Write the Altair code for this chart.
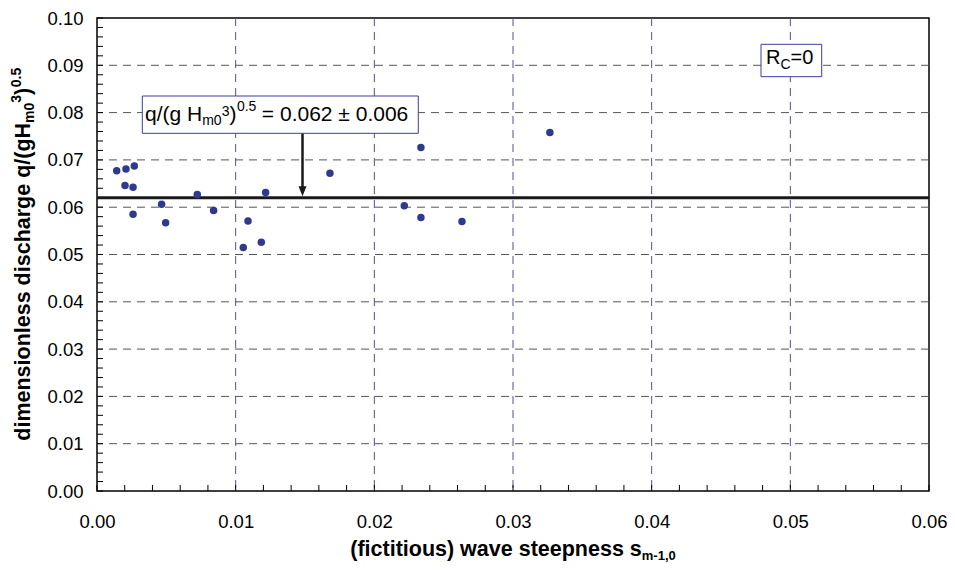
import altair as alt
import pandas as pd

# ---------------- data ----------------
steepness = [0.00142, 0.00209, 0.00269, 0.00202, 0.00260, 0.00260, 0.00466, 0.00495,
             0.00723, 0.00841, 0.01055, 0.01089, 0.01185, 0.01216, 0.01680, 0.02216,
             0.02336, 0.02336, 0.02632, 0.03266]
discharge = [0.0677, 0.0681, 0.0687, 0.0646, 0.0642, 0.0585, 0.0606, 0.0567,
             0.0627, 0.0593, 0.0515, 0.0571, 0.0526, 0.0631, 0.0672, 0.0603,
             0.0726, 0.0578, 0.0570, 0.0758]
mean_discharge = [0.062]
x_major = [0.00, 0.01, 0.02, 0.03, 0.04, 0.05, 0.06]
y_major = [0.00, 0.01, 0.02, 0.03, 0.04, 0.05, 0.06, 0.07, 0.08, 0.09, 0.10]
x_grid = [0.01, 0.02, 0.03, 0.04, 0.05]
y_grid = [0.01, 0.02, 0.03, 0.04, 0.05, 0.06, 0.07, 0.08, 0.09]
x_minor = [round(i * 0.002, 3) for i in range(31)]
y_minor = [round(i * 0.002, 3) for i in range(51)]

# ---------------- layout ----------------
W, H = 832, 473
PAD_L, PAD_T = 89, 10
OX, OY = 8 + PAD_L, 8 + PAD_T  # page position of the plot origin


def px(a):  # page x -> plot x
    return a - OX


def py(a):  # page y -> plot y
    return a - OY


FONT = "Liberation Sans"
BLUE_GRID = "#4b4fa8"
DOT = "#2d3a8f"

xs = alt.Scale(domain=[0, 0.06], nice=False, zero=False)
ys = alt.Scale(domain=[0, 0.10], nice=False, zero=False)

X_AX = alt.Axis(values=x_major, format=".2f", title=None, ticks=False, tickSize=0, domain=False,
                grid=False, labelFontSize=18.5, labelFont=FONT, labelColor="black",
                labelPadding=21, labelFlush=False, labelOverlap=False)
Y_AX = alt.Axis(values=y_major, format=".2f", title=None, ticks=False, tickSize=0, domain=False,
                grid=False, labelFontSize=18.5, labelFont=FONT, labelColor="black",
                labelPadding=14, labelOverlap=False)

REG = {' ': .278, '(': .333, ')': .333, '/': .278, '.': .278, ',': .278, '-': .333,
       '=': .584, '±': .549, 'q': .556, 'g': .556, 'H': .722, 'm': .833, 'R': .722, 'C': .722}
BOLD = {' ': .278, '(': .333, ')': .333, '/': .278, '.': .278, ',': .278, '-': .333,
        'a': .556, 'c': .556, 'd': .611, 'e': .556, 'f': .333, 'g': .611, 'h': .611,
        'i': .278, 'l': .278, 'm': .889, 'n': .611, 'o': .611, 'p': .611, 'q': .611,
        'r': .389, 's': .556, 't': .333, 'u': .611, 'v': .556, 'w': .778, 'H': .722}


def width(s, size, bold):
    table = BOLD if bold else REG
    return sum(table.get(c, .556) for c in s) * size


one = pd.DataFrame({"k": [0]})


def txt(s, x, y, size, bold=False, angle=None):
    kw = dict(text=s, align="left", baseline="alphabetic", fontSize=size, font=FONT,
              fontWeight="bold" if bold else "normal", color="black")
    if angle is not None:
        kw["angle"] = angle
    return alt.Chart(one).mark_text(**kw).encode(x=alt.value(x), y=alt.value(y))


def chain_h(pieces, x0, base, bold):
    out, x = [], x0
    for s, size, shift, gap in pieces:
        x += gap
        out.append(txt(s, x, base + shift, size, bold))
        x += width(s, size, bold)
    return out


def chain_v(pieces, y0, base, bold):
    out, y = [], y0
    for s, size, shift, gap in pieces:
        y -= gap
        out.append(txt(s, base + shift, y, size, bold, angle=270))
        y -= width(s, size, bold)
    return out


# ---------------- layers ----------------
xgrid = alt.Chart(pd.DataFrame({"v": x_grid})).mark_rule(
    stroke=BLUE_GRID, strokeWidth=1, strokeDash=[8, 6]).encode(
    x=alt.X("v:Q", scale=xs, axis=X_AX))
ygrid = alt.Chart(pd.DataFrame({"v": y_grid})).mark_rule(
    stroke="#555555", strokeWidth=1, strokeDash=[8, 6]).encode(
    y=alt.Y("v:Q", scale=ys, axis=Y_AX))

xticks = alt.Chart(pd.DataFrame({"v": x_minor})).mark_rule(stroke="black", strokeWidth=1).encode(
    x=alt.X("v:Q", scale=xs, axis=X_AX), y=alt.value(H), y2=alt.value(H - 6))
yticks = alt.Chart(pd.DataFrame({"v": y_minor})).mark_rule(stroke="black", strokeWidth=1).encode(
    y=alt.Y("v:Q", scale=ys, axis=Y_AX), x=alt.value(0), x2=alt.value(6))

mean_line = alt.Chart(pd.DataFrame({"q": mean_discharge})).mark_rule(
    stroke="#1a1a1a", strokeWidth=3).encode(y=alt.Y("q:Q", scale=ys, axis=Y_AX))

pts_df = pd.DataFrame({"s": steepness, "q": discharge})
points = alt.Chart(pts_df).mark_circle(size=56, color=DOT, opacity=1).encode(
    x=alt.X("s:Q", scale=xs, axis=X_AX),
    y=alt.Y("q:Q", scale=ys, axis=Y_AX))

# annotation boxes, placed relative to the gridlines they sit on
B1 = 6  # vertical offset of the formula box
B2 = 6  # vertical offset of the R_C box

AX = px(302.5)
tip = H * (1 - mean_discharge[0] / 0.10) - 1.5
arrow_shaft = alt.Chart(one).mark_rule(stroke="#1a1a1a", strokeWidth=2.5).encode(
    x=alt.value(AX), y=alt.value(py(127.3 + B1)), y2=alt.value(tip - 8))
arrow_head = alt.Chart(one).mark_point(
    shape="M-0.8,-1L0.8,-1L0,1Z", filled=True, size=100, color="#1a1a1a", opacity=1).encode(
    x=alt.value(AX), y=alt.value(tip - 5))

box1 = alt.Chart(one).mark_rect(fill="white", stroke="#3c3ca0", strokeWidth=1).encode(
    x=alt.value(px(142.3)), x2=alt.value(px(418.3)),
    y=alt.value(py(90 + B1)), y2=alt.value(py(127.3 + B1)))
box2 = alt.Chart(one).mark_rect(fill="white", stroke="#3c3ca0", strokeWidth=1).encode(
    x=alt.value(px(761)), x2=alt.value(px(821.7)),
    y=alt.value(py(38.3 + B2)), y2=alt.value(py(70.7 + B2)))

ann1 = chain_h([("q/(g H", 21, 0, 0), ("m0", 14, 3.5, 0), ("3", 14, -5, 0), (")", 21, 0, 0),
                ("0.5", 14, -10.5, 0.5), ("= 0.062 ± 0.006", 21, 0, 5.5)],
               px(145), py(115 + B1), False)
ann2 = chain_h([("R", 20, 0, 0), ("C", 14, 5, 0), ("=0", 20, 0, 0)],
               px(766), py(57.5 + B2), False)

xt_pieces = [("(fictitious) wave steepness s", 21.5, 0, 0), ("m-1,0", 13, 4, 0)]
xt_len = sum(width(s, z, True) for s, z, _, _ in xt_pieces)
xtitle = chain_h(xt_pieces, W / 2 - xt_len / 2, py(556), True)

yt_pieces = [("dimensionless discharge q/(gH", 21.5, 0, 0), ("m0", 14, 4, 0), ("3", 14, -9, 0),
             (")", 21.5, 0, 0), ("0.5", 14, -9, 0.5)]
yt_len = sum(width(s, z, True) for s, z, _, _ in yt_pieces)
ytitle = chain_v(yt_pieces, H / 2 + yt_len / 2, px(30), True)

chart = alt.layer(
    xgrid, ygrid, xticks, yticks, mean_line, points, arrow_shaft, arrow_head,
    box1, box2, *ann1, *ann2, *xtitle, *ytitle
).properties(
    width=W, height=H,
    autosize=alt.AutoSizeParams(type="none"),
    padding={"left": PAD_L, "top": PAD_T, "right": 18, "bottom": 72},
    background="white",
).configure_view(stroke="black", strokeWidth=1.5)

chart.save("out.html", embed_options={"renderer": "svg", "actions": False})
